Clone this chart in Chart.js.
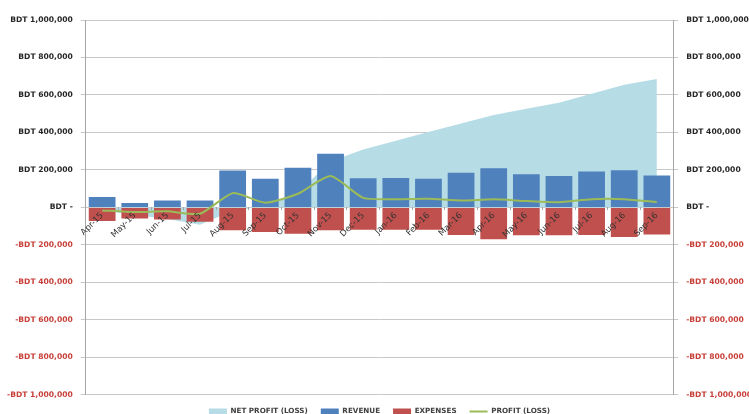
<!DOCTYPE html>
<html>
<head>
<meta charset="utf-8">
<title>Revenue, expenses and profit</title>
<script src="https://cdn.jsdelivr.net/npm/chart.js@4/dist/chart.umd.min.js"></script>
<style>
  html, body { margin: 0; padding: 0; background: #fff; }
  canvas { display: block; }
</style>
</head>
<body>
<canvas id="chart" width="749" height="414"></canvas>
<script>
const months = ["Apr-15", "May-15", "Jun-15", "Jul-15", "Aug-15", "Sep-15", "Oct-15", "Nov-15", "Dec-15",
  "Jan-16", "Feb-16", "Mar-16", "Apr-16", "May-16", "Jun-16", "Jul-16", "Aug-16", "Sep-16"];

const revenue = [55000, 23000, 37000, 37000, 197000, 153000, 211000, 286000, 156000,
  157000, 153000, 185000, 209000, 177000, 167000, 192000, 198000, 170000];

const expenses = [-73000, -59000, -64000, -76000, -122000, -131000, -140000, -122000, -119000,
  -119000, -119000, -147000, -170000, -149000, -149000, -147000, -158000, -144000];

const profit = [-16000, -25000, -21000, -34000, 76000, 25000, 73000, 167000, 51000,
  44000, 46000, 37000, 43000, 34000, 28000, 44000, 44000, 28000];

const netProfit = [-16000, -41000, -62000, -92000, -18000, 8000, 80000, 245000, 309000,
  355000, 402000, 448000, 493000, 526000, 559000, 607000, 654000, 685000];

const yTickValues = [-1000000, -800000, -600000, -400000, -200000, 0, 200000, 400000, 600000, 800000, 1000000];
const yTickLabels = ["-BDT 1,000,000", "-BDT 800,000", "-BDT 600,000", "-BDT 400,000", "-BDT 200,000", "BDT -",
  "BDT 200,000", "BDT 400,000", "BDT 600,000", "BDT 800,000", "BDT 1,000,000"];

const red = "#c8403a";
const dark = "#262626";

// y tick label lookup, shared by both value axes
const tickLabel = (v) => {
  const i = yTickValues.indexOf(v);
  return i < 0 ? "" : yTickLabels[i];
};
const tickColor = (ctx) => (ctx.tick && ctx.tick.value < 0 ? red : dark);

const yTicks = {
  stepSize: 200000,
  padding: 8,
  color: tickColor,
  font: { family: "DejaVu Sans", size: 7.6, weight: "bold" },
  callback: tickLabel
};

new Chart(document.getElementById("chart"), {
  data: {
    labels: months,
    datasets: [
      {
        type: "line",
        label: "NET PROFIT (LOSS)",
        data: netProfit,
        fill: "origin",
        backgroundColor: "#b6dce6",
        borderWidth: 0,
        borderColor: "#b6dce6",
        pointRadius: 0,
        tension: 0,
        pointStyle: "rect",
        order: 3,
        stack: "np"
      },
      {
        type: "bar",
        label: "REVENUE",
        data: revenue,
        backgroundColor: "#4f81bd",
        pointStyle: "rect",
        order: 2
      },
      {
        type: "bar",
        label: "EXPENSES",
        data: expenses,
        backgroundColor: "#c0504d",
        pointStyle: "rect",
        order: 2
      },
      {
        type: "line",
        label: "PROFIT (LOSS)",
        data: profit,
        borderColor: "#9bbb59",
        backgroundColor: "#9bbb59",
        borderWidth: 2,
        pointRadius: 0,
        tension: 0.2,
        pointStyle: "line",
        fill: false,
        order: 0,
        stack: "p"
      }
    ]
  },
  options: {
    responsive: false,
    animation: false,
    devicePixelRatio: 1,
    layout: { padding: { top: 20, left: -1, right: -11, bottom: -11 } },
    datasets: {
      bar: { categoryPercentage: 1, barPercentage: 0.82 }
    },
    plugins: {
      tooltip: { enabled: false },
      legend: {
        position: "bottom",
        labels: {
          usePointStyle: true,
          pointStyleWidth: 18,
          boxHeight: 6,
          padding: 13,
          color: "#404040",
          font: { family: "DejaVu Sans", size: 7.2, weight: "bold" },
          sort: (a, b) => a.datasetIndex - b.datasetIndex
        }
      }
    },
    scales: {
      x: {
        stacked: true,
        position: { y: 0 },
        grid: { display: true, drawOnChartArea: false, offset: true, tickLength: 3, color: "#a6a6a6", z: 1 },
        border: { display: false },
        ticks: {
          z: 2,
          autoSkip: false,
          minRotation: 45,
          maxRotation: 45,
          padding: 0,
          color: "#333",
          font: { family: "DejaVu Sans", size: 8.5 }
        }
      },
      y: {
        position: "left",
        min: -1000000,
        max: 1000000,
        grid: { color: "#c8c8c8", tickLength: 5 },
        border: { color: "#a6a6a6" },
        ticks: yTicks
      },
      y2: {
        position: "right",
        min: -1000000,
        max: 1000000,
        grid: { drawOnChartArea: false, color: "#c8c8c8", tickLength: 5 },
        border: { color: "#a6a6a6" },
        ticks: yTicks
      }
    }
  }
});
</script>
</body>
</html>
